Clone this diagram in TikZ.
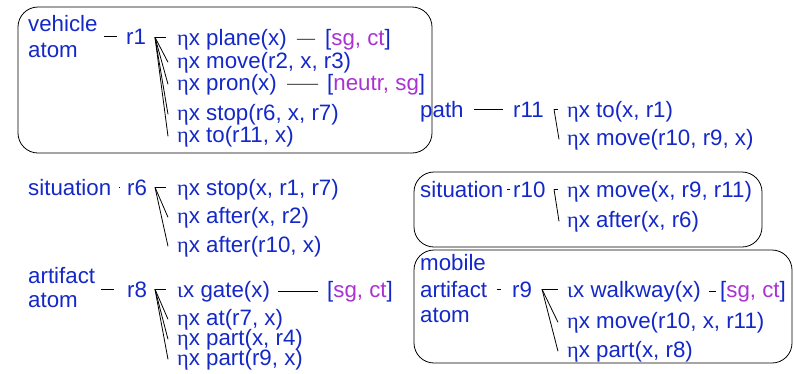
\documentclass[tikz,border=0pt]{standalone}
\usepackage{fontspec}
\setmainfont{Liberation Sans}
\newfontfamily\grk{Liberation Serif}
\usetikzlibrary{positioning, calc}
\definecolor{cText}{RGB}{20,40,200}
\definecolor{cFeat}{RGB}{170,50,210}
\newcommand{\etax}{{\grk η}x}
\newcommand{\iotax}{{\grk ι}x}
\newcommand{\feat}[1]{[\textcolor{cFeat}{#1}]}

\begin{document}
\begin{tikzpicture}[x=1pt, y=-1pt,
        txt/.style={anchor=base west, inner sep=0pt, text=cText, font=\fontsize{22.3}{26}\selectfont},
        frame/.style={draw=black, rounded corners=20pt, line width=0.8pt},
        link/.style={black, line width=0.8pt},
        fan/.style={black, line width=0.8pt}
    ]
        \useasboundingbox (0,0) rectangle (794,373);

        % --- frames ---
        \draw[frame] (18,7) rectangle (432,153);
        \draw[frame] (414,172) rectangle (762,247);
        \draw[frame] (414,250) rectangle (792,363);

        % --- r1 ---
        \node[txt] (typ1a) at (28,31)  {vehicle};
        \node[txt] (typ1b) at (28,57)  {atom};
        \node[txt] (r1)    at (126,44) {r1};
        \node[txt] (p1)    at (177,45)  {\etax{} plane(x)};
        \node[txt] (p2)    at (177,68)  {\etax{} move(r2, x, r3)};
        \node[txt] (p3)    at (177,90)  {\etax{} pron(x)};
        \node[txt] (p4)    at (177,120) {\etax{} stop(r6, x, r7)};
        \node[txt] (p5)    at (177,142) {\etax{} to(r11, x)};
        \node[txt] (ft1a)  at (325,45)  {\feat{sg, ct}};
        \node[txt] (ft1b)  at (327,90)  {\feat{neutr, sg}};
        \draw[link, shorten <=6pt, shorten >=9pt] (typ1a.east |- r1.west) -- (r1.west);
        \draw[link, shorten <=10pt, shorten >=10pt] (p1.east) -- (ft1a.west);
        \draw[link, shorten <=10pt, shorten >=9pt] (p3.east) -- (ft1b.west);
        \coordinate (o1) at ($(p1.west)+(-22,-2)$);
        \draw[fan] (o1) -- ($(p1.west)+(-11,-2)$);
        \draw[fan] (o1) -- ([xshift=-9pt]p2.west);
        \draw[fan] (o1) -- ([xshift=-9pt]p3.west);
        \draw[fan] (o1) -- ([xshift=-9pt]p4.west);
        \draw[fan] (o1) -- ([xshift=-9pt]p5.west);

        % --- r6 ---
        \node[txt] (typ6) at (28,195)  {situation};
        \node[txt] (r6)   at (127,195) {r6};
        \node[txt] (q1)   at (177,195) {\etax{} stop(x, r1, r7)};
        \node[txt] (q2)   at (177,223) {\etax{} after(x, r2)};
        \node[txt] (q3)   at (177,252) {\etax{} after(r10, x)};
        \draw[link, shorten <=8pt, shorten >=8pt] (typ6.east |- r6.west) -- (r6.west);
        \coordinate (o6) at ($(q1.west)+(-22,-2)$);
        \draw[fan] (o6) -- ($(q1.west)+(-11,-2)$);
        \draw[fan] (o6) -- ([xshift=-9pt]q2.west);
        \draw[fan] (o6) -- ([xshift=-9pt]q3.west);

        % --- r8 ---
        \node[txt] (typ8a) at (28,283)  {artifact};
        \node[txt] (typ8b) at (28,307)  {atom};
        \node[txt] (r8)    at (127,297) {r8};
        \node[txt] (s1)    at (177,297) {\iotax{} gate(x)};
        \node[txt] (s2)    at (177,325) {\etax{} at(r7, x)};
        \node[txt] (s3)    at (177,345) {\etax{} part(x, r4)};
        \node[txt] (s4)    at (177,365) {\etax{} part(r9, x)};
        \node[txt] (ft8)   at (327,297) {\feat{sg, ct}};
        \draw[link, shorten <=6pt, shorten >=13pt] (typ8a.east |- r8.west) -- (r8.west);
        \draw[link, shorten <=8pt, shorten >=9pt] (s1.east) -- (ft8.west);
        \coordinate (o8) at ($(s1.west)+(-22,-2)$);
        \draw[fan] (o8) -- ($(s1.west)+(-11,-2)$);
        \draw[fan] (o8) -- ([xshift=-9pt]s2.west);
        \draw[fan] (o8) -- ([xshift=-9pt]s3.west);
        \draw[fan] (o8) -- ([xshift=-9pt]s4.west);

        % --- r11 ---
        \node[txt] (typ11) at (420,117) {path};
        \node[txt] (r11)   at (513,117) {r11};
        \node[txt] (t1)    at (567,117) {\etax{} to(x, r1)};
        \node[txt] (t2)    at (567,145) {\etax{} move(r10, r9, x)};
        \draw[link, shorten <=10pt, shorten >=10pt] (typ11.east |- r11.west) -- (r11.west);
        \coordinate (o11) at ($(t1.west)+(-13,-2)$);
        \draw[fan] (o11) -- ($(t1.west)+(-9,-2)$);
        \draw[fan] (o11) -- ([xshift=-8pt]t2.west);

        % --- r10 ---
        \node[txt] (typ10) at (420,197) {situation};
        \node[txt] (r10)   at (513,197) {r10};
        \node[txt] (u1)    at (567,197) {\etax{} move(x, r9, r11)};
        \node[txt] (u2)    at (567,227) {\etax{} after(x, r6)};
        \draw[link, shorten <=4pt, shorten >=3pt] (typ10.east |- r10.west) -- (r10.west);
        \coordinate (o10) at ($(u1.west)+(-13,-2)$);
        \draw[fan] (o10) -- ($(u1.west)+(-9,-2)$);
        \draw[fan] (o10) -- ([xshift=-8pt]u2.west);

        % --- r9 ---
        \node[txt] (typ9a) at (420,270) {mobile};
        \node[txt] (typ9b) at (420,297) {artifact};
        \node[txt] (typ9c) at (420,322) {atom};
        \node[txt] (r9)    at (512,297) {r9};
        \node[txt] (v1)    at (567,297) {\iotax{} walkway(x)};
        \node[txt] (v2)    at (567,328) {\etax{} move(r10, x, r11)};
        \node[txt] (v3)    at (567,357) {\etax{} part(x, r8)};
        \node[txt] (ft9)   at (720,297) {\feat{sg, ct}};
        \draw[link, shorten <=10pt, shorten >=11pt] (typ9b.east |- r9.west) -- (r9.west);
        \draw[link, shorten <=8pt, shorten >=4pt] (v1.east) -- (ft9.west);
        \coordinate (o9) at ($(v1.west)+(-25,-2)$);
        \draw[fan] (o9) -- ($(v1.west)+(-9,-2)$);
        \draw[fan] (o9) -- ([xshift=-9pt]v2.west);
        \draw[fan] (o9) -- ([xshift=-9pt]v3.west);

    \end{tikzpicture}
\end{document}
